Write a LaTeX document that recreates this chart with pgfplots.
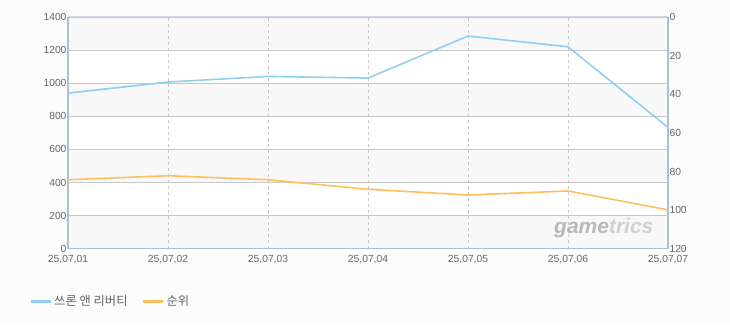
\documentclass[border=0pt]{standalone}
\usepackage{pgfplots}
\pgfplotsset{compat=1.18}
\usepackage{fontspec}
\setmainfont{Liberation Sans}
\newfontfamily\kr{Noto Sans CJK KR}
\definecolor{bg}{HTML}{FCFCFC}
\definecolor{band}{HTML}{F8F8F8}
\definecolor{frame}{HTML}{AEBFD2}
\definecolor{gridc}{HTML}{C8C8C8}
\definecolor{txt}{HTML}{666666}
\definecolor{blueL}{HTML}{8FD0F0}
\definecolor{orangeL}{HTML}{FFBF60}
\pgfplotsset{set layers}
\begin{document}
\begin{tikzpicture}
\begin{axis}[
  at={(68pt,76.3pt)}, anchor=south west,
  scale only axis, width=600pt, height=231.7pt,
  xmin=0, xmax=6, ymin=0, ymax=1400,
  xtick={0,...,6},
  xticklabels={25{,}07{,}01,25{,}07{,}02,25{,}07{,}03,25{,}07{,}04,25{,}07{,}05,25{,}07{,}06,25{,}07{,}07},
  ytick={0,200,...,1400},
  axis y line*=left, axis x line*=bottom,
  axis line style={frame, line width=1.6pt},
  every outer x axis line/.append style={-}, every outer y axis line/.append style={-},
  tick style={draw=none},
  ticklabel style={font=\fontsize{10.3}{12}\selectfont, text=txt},
  /pgf/number format/assume math mode=true,
  /pgf/number format/1000 sep={},
  xticklabel style={yshift=-3pt},
  yticklabel style={xshift=2pt},
  ymajorgrids, xmajorgrids,
  y grid style={gridc, line width=0.8pt},
  x grid style={gridc, dashed, line width=0.6pt},
  legend columns=2,
  legend style={draw=none, fill=none, at={(-0.07,-0.228)}, anchor=west,
    font=\kr\fontsize{12.3}{14}\selectfont,
    /tikz/every even column/.append style={column sep=12pt}},
  legend image code/.code={\draw[#1, line width=3pt] (0pt,0pt) -- (20pt,0pt);},
  clip=false,
]
\begin{pgfonlayer}{axis background}
\fill[bg] (rel axis cs:-0.11334,-0.32931) rectangle (rel axis cs:1.10334,1.07336);
\end{pgfonlayer}
\addplot[forget plot, draw=none, fill=band, on layer=axis background] coordinates {(0,1200) (6,1200) (6,1400) (0,1400)} -- cycle;
\addplot[forget plot, draw=none, fill=band, on layer=axis background] coordinates {(0,800) (6,800) (6,1000) (0,1000)} -- cycle;
\addplot[forget plot, draw=none, fill=band, on layer=axis background] coordinates {(0,400) (6,400) (6,600) (0,600)} -- cycle;
\addplot[forget plot, draw=none, fill=band, on layer=axis background] coordinates {(0,0) (6,0) (6,200) (0,200)} -- cycle;
\addplot[forget plot, draw=none, fill=white, on layer=axis background] coordinates {(0,1000) (6,1000) (6,1200) (0,1200)} -- cycle;
\addplot[forget plot, draw=none, fill=white, on layer=axis background] coordinates {(0,600) (6,600) (6,800) (0,800)} -- cycle;
\addplot[forget plot, draw=none, fill=white, on layer=axis background] coordinates {(0,200) (6,200) (6,400) (0,400)} -- cycle;
\node[font=\bfseries\itshape\fontsize{21}{22}\selectfont, text=black!28] at (rel axis cs:0.893,0.088) {game\textcolor{black!18}{trics}};
\addplot[blueL, line width=1.6pt] coordinates {(0,940) (1,1007) (2,1041) (3,1031) (4,1285) (5,1220) (6,733)};
\addlegendentry{\textcolor{txt}{쓰론 앤 리버티}}
\addlegendimage{orangeL, line width=1.6pt}
\addlegendentry{\textcolor{txt}{순위}}
\end{axis}
\begin{axis}[
  at={(68pt,76.3pt)}, anchor=south west,
  scale only axis, width=600pt, height=231.7pt,
  xmin=0, xmax=6, ymin=0, ymax=120,
  y dir=reverse,
  axis y line*=right, axis x line=none,
  axis line style={frame, line width=1.6pt},
  every outer y axis line/.append style={-},
  ytick={0,20,...,120},
  tick style={draw=none},
  ticklabel style={font=\fontsize{10.3}{12}\selectfont, text=txt},
  /pgf/number format/assume math mode=true,
  yticklabel style={xshift=-2pt},
  clip=false,
]
\addplot[orangeL, line width=1.6pt] coordinates {(0,84.3) (1,82.2) (2,84.3) (3,89.2) (4,92.2) (5,90.1) (6,99.9)};
\draw[frame!60, line width=1pt] (rel axis cs:0,1) -- (rel axis cs:1,1);
\end{axis}
\end{tikzpicture}
\end{document}
